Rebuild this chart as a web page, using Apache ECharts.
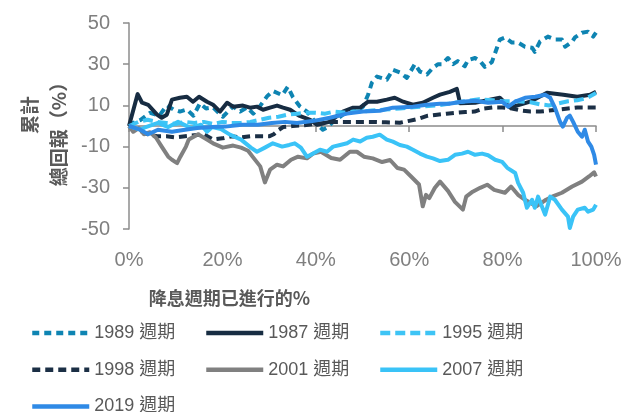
<!DOCTYPE html>
<html>
<head>
<meta charset="utf-8">
<script src="https://cdn.jsdelivr.net/npm/echarts@6/dist/echarts.min.js"></script>
<style>
html,body{margin:0;padding:0;background:#fff;}
#c{width:633px;height:412px;}
</style>
</head>
<body>
<div id="c"></div>
<script>
// ---- data: [x (% of cycle elapsed), cumulative total return %] ----
const xTicks = [0, 20, 40, 60, 80, 100];
const yTicks = [-50, -30, -10, 10, 30, 50];
const seriesNames = ['1989 週期','1987 週期','1995 週期','1998 週期','2001 週期','2007 週期','2019 週期'];

const d1989 = [[0,0],[0.9,1.5],[2.5,3],[4.5,6.4],[6.5,5],[8.1,10],[9.5,8],[10.9,7],[12.4,8],[13.8,5],[15.2,11],[16.5,8.5],[18,9],[20.1,4.5],[22.3,9.5],[23.8,7],[25.3,9],[26.6,6],[28,9.5],[29.6,14.5],[30.8,17],[32.8,15],[34,19],[35.1,14],[36.6,9.5],[38.1,7],[39.2,4],[40.3,0.6],[41.5,-1.8],[42.4,-0.8],[43.7,2],[45.8,5.5],[47.3,8],[48.8,7],[50.1,9.4],[51.2,15.2],[52,21],[53.1,24],[55.2,22.5],[56.5,27.3],[58,26],[59.5,23.4],[61.2,30],[62.3,26.4],[63.8,25],[65.1,28.3],[66.2,30],[67,30],[68.3,33],[69.4,30],[70.4,31.5],[71.9,29],[72.6,32],[74.1,33],[75.2,31.5],[76.2,28.7],[77.7,31],[78.8,38],[79.4,41.9],[80.5,42.9],[82,40.5],[83.3,40.5],[84.8,38.5],[86.3,38],[86.9,36],[88,41],[89.7,43.4],[91.2,42],[92.7,42],[93.4,38.5],[94.9,41],[95.5,43],[97,45.3],[98.3,45.8],[99.4,43.4],[100,45.3]];

const d1987 = [[0,0],[1.85,15.5],[2.8,11.3],[4.1,10.3],[6,5.5],[7,4],[8.1,5.5],[9.2,12.8],[10.9,13.7],[12.4,14.2],[13.7,11.8],[15,14.2],[16.7,11.8],[18,10.3],[19.5,7],[21,11.3],[22.3,9.4],[24.4,9.9],[25.9,8.9],[27.4,9.4],[28.7,7.9],[30.2,8.9],[31.7,9.9],[33,8.9],[34.5,7.9],[36.4,5],[38.8,3],[40.3,0.6],[42.9,2],[45.8,7],[48,8.9],[49.5,8.9],[51.2,11.8],[53.1,11.8],[55.2,12.8],[56.9,13.7],[58.7,11.8],[60.8,10.3],[62.9,11.3],[65.1,13.7],[66.6,15.2],[68.7,16.6],[70.2,18],[70.9,11],[74.1,11.3],[79.4,13.7],[81.6,8.9],[85.9,11.8],[89.5,16.1],[93,15.2],[96,14.2],[98.7,15.2],[100,16.6]];

const d1995 = [[0,0],[2,2],[4,3],[6,2],[8,1.5],[10,1],[12,2],[14,1.5],[16,2],[18,1],[20,2],[22,1.5],[24,1.5],[26,2],[28,3],[30,4],[32,4.5],[34,5.5],[36,6],[38,6.4],[40,6.4],[42,6],[44,7],[46,6.5],[48,7],[50,7],[52,7.5],[55,8],[58,8.5],[60,9],[63,9.5],[66,10],[69,11],[72,12],[75,13],[78,12.5],[80,12],[83,12],[86,11.5],[88,10.5],[90,10],[92,11],[94,12],[96,12.5],[98,13.5],[100,16]];

const d1998 = [[0,0],[2,-2],[4,-4],[6,-5],[8,-5],[10,-5.5],[12,-5],[14,-4.5],[16,-4],[18,-6.5],[20,-6],[22,-5],[24,-5.5],[26,-5],[28,-5],[30,-5],[31,-4],[32,-2],[33,-0.5],[35,0],[38,0.5],[40,1],[42,1.5],[44,2],[48,2],[52,2],[55,1.8],[58,1.6],[60,2.5],[62,3.5],[64,5],[66,5.5],[68,6],[70,6.4],[72,6.8],[74,7],[76,8.5],[78,9],[80,9],[82,8.5],[84,7.5],[86,7],[88,7],[90,7.5],[92,8],[94,8.5],[96,9],[98,9],[100,9]];

const d2001 = [[0,0],[0.9,-2.8],[2.1,-1],[3.2,-4],[4.5,-3],[5.8,-5.7],[7,-10],[8.4,-14.9],[9.2,-16.4],[10.3,-18],[11,-14.9],[12.2,-10],[12.8,-6.6],[14.8,-4],[16.7,-6.6],[18,-8.4],[20.1,-10.5],[22.3,-9.5],[24,-10.5],[25.5,-12],[26.5,-15],[28.1,-19.6],[29.1,-27.4],[30.2,-21.2],[31.7,-18.8],[33,-19.6],[34.7,-16.4],[36.2,-14.9],[38.1,-15.7],[39.4,-13.4],[41.1,-12.5],[43.3,-15.5],[45.2,-16.4],[47.3,-12.5],[48.8,-12.5],[50.3,-14.9],[52.2,-15.7],[54.2,-17.5],[55.9,-16.5],[57.5,-20.4],[58.9,-21.2],[60.4,-24.5],[62.1,-28.4],[62.9,-39],[63.6,-33.4],[64.3,-35],[65.5,-30],[66.6,-27],[68.3,-31.5],[69.8,-36.8],[71.5,-40.6],[72.2,-34.3],[73.6,-31.9],[75.2,-30],[76.7,-28.5],[78.2,-31],[80.5,-32.4],[81.8,-29.4],[83.3,-33.4],[84.8,-35.8],[87.2,-39],[89.3,-35.8],[90.6,-34.3],[92.7,-32.4],[94.9,-29.4],[97,-27],[98.5,-24.5],[99.6,-22.5],[100,-24.5]];

const d2007 = [[0,0],[2.4,-1.8],[3.6,-0.5],[6.2,1.5],[8.4,-0.5],[10.5,2],[13.3,-1],[15.4,0.6],[16.7,-2.8],[17.8,-0.5],[19.7,-1.5],[21.6,-4.2],[24,-6.6],[26.1,-10.5],[27.4,-12.5],[29.1,-10.5],[30.8,-8.4],[32.8,-10],[34.3,-9.2],[35.5,-8.4],[36.8,-10.5],[38.1,-14.9],[39.4,-13.4],[40.9,-11.5],[42.4,-12.5],[43.7,-10],[45.2,-9.2],[46.7,-8.4],[48,-6.6],[49.5,-7.5],[50.9,-5.7],[52.2,-5.2],[53.7,-4.2],[55.2,-6.6],[56.5,-7.6],[58,-9.2],[59.5,-10],[60.8,-11.5],[62.3,-13.4],[63.8,-14.9],[65.1,-15.7],[66.6,-17],[68.3,-16.4],[69.8,-14],[71.3,-13.4],[72.6,-12.5],[74.1,-14],[75.6,-13.4],[76.9,-14.2],[78.4,-16.4],[79.9,-17.4],[81,-20.3],[82.7,-22.8],[83.3,-27.5],[84.4,-32.4],[85.2,-39.7],[86.3,-35.8],[86.9,-39.7],[87.6,-34.3],[88.4,-39],[89.1,-43],[90.2,-34.3],[91.2,-35.8],[92.7,-40.6],[94,-44],[94.4,-49.5],[95.1,-44],[96.1,-40.6],[97.6,-39.7],[98.3,-41.6],[99.4,-40.6],[100,-38.2]];

const d2019 = [[0,0],[2.4,-1.8],[4.1,-4],[6.2,-1.8],[9.2,-2.8],[12,-1.8],[14.6,-1],[17.8,-0.5],[20.6,-0.3],[24.2,0.6],[27.6,0.6],[30.6,1.5],[33.4,2],[36,1.5],[39.6,2.5],[43,4],[46.7,6],[50.1,7],[53.7,7.4],[56.5,8.9],[60.8,9.4],[63.8,10.3],[66.6,10.8],[68.5,10.8],[71.3,11.8],[74.1,12.3],[76.9,11.3],[79.9,11.8],[81.2,9.4],[82.7,11.8],[84.8,13.7],[87,14.2],[89.1,15.2],[90.2,13.7],[91.2,8.9],[92.3,2],[92.9,-0.3],[93.8,4],[94.4,5],[95.1,2],[96.1,-2.8],[97,-5.2],[97.6,-1.8],[98.3,-7.6],[99,-10],[99.6,-14],[100,-18.8]];

const seriesData = [d1989, d1987, d1995, d1998, d2001, d2007, d2019];
const colors = ['#0E84B2', '#172C42', '#3EC4F5', '#1B2F45', '#808080', '#3AC3F7', '#2F8AE6'];
const dashes = [[7,5], 'solid', [10,5], [8,5], 'solid', 'solid', 'solid'];

const FONT = "'Liberation Sans', Arial, 'Noto Sans CJK TC', sans-serif";
const CJK = "'Noto Sans CJK TC', 'Liberation Sans', sans-serif";

const chart = echarts.init(document.getElementById('c'), null, {renderer: 'canvas'});

const series = seriesNames.map((n, i) => ({
  name: n,
  type: 'line',
  data: seriesData[i],
  xAxisIndex: 0,
  yAxisIndex: 0,
  symbol: 'none',
  smooth: false,
  animation: false,
  lineStyle: {color: colors[i], width: 4, type: dashes[i], join: 'round'},
  itemStyle: {color: colors[i]}
}));

function legendCol(left, names) {
  return {
    left: left, top: 323, orient: 'vertical', padding: 0,
    height: 120, itemWidth: 57, itemHeight: 14, itemGap: 16.7,
    data: names, selectedMode: false,
    itemStyle: {color: 'rgba(0,0,0,0)', borderColor: 'rgba(0,0,0,0)', borderWidth: 0, opacity: 0},
    lineStyle: {width: 4.5},
    textStyle: {fontSize: 18, lineHeight: 20, color: '#595959', fontFamily: FONT}
  };
}

chart.setOption({
  backgroundColor: '#ffffff',
  animation: false,
  grid: {left: 129, right: 37, top: 23, bottom: 183, containLabel: false},
  xAxis: [
    {
      type: 'value', min: xTicks[0], max: xTicks[xTicks.length - 1], interval: 20,
      position: 'bottom',
      axisLine: {show: false, onZero: false},
      axisTick: {show: false},
      splitLine: {show: false},
      axisLabel: {formatter: '{value}%', fontSize: 20, color: '#7f7f7f', margin: 21, fontFamily: FONT}
    },
    {
      type: 'value', min: xTicks[0], max: xTicks[xTicks.length - 1], interval: 20,
      position: 'bottom',
      axisLine: {show: true, onZero: true, lineStyle: {color: '#8c8c8c', width: 1.5}},
      axisTick: {show: true, length: 6, inside: false, lineStyle: {color: '#8c8c8c', width: 1.5}},
      splitLine: {show: false},
      axisLabel: {show: false}
    }
  ],
  yAxis: {
    type: 'value', min: yTicks[0], max: yTicks[yTicks.length - 1], interval: 20,
    axisLine: {show: true, onZero: false, lineStyle: {color: '#8c8c8c', width: 1.5}},
    axisTick: {show: true, length: 6, lineStyle: {color: '#8c8c8c', width: 1.5}},
    splitLine: {show: false},
    axisLabel: {fontSize: 20, color: '#7f7f7f', margin: 19, fontFamily: FONT}
  },
  legend: [
    legendCol(30, [seriesNames[0], seriesNames[3], seriesNames[6]]),
    legendCol(204, [seriesNames[1], seriesNames[4]]),
    legendCol(378, [seriesNames[2], seriesNames[5]])
  ],
  graphic: [
    {type: 'text', x: 229.5, y: 298, silent: true,
     style: {text: '降息週期已進行的%', fontSize: 18, fontWeight: 'bold', fontFamily: CJK, fill: '#595959', align: 'center', verticalAlign: 'middle'}},
    {type: 'text', x: 30, y: 115, rotation: Math.PI / 2, silent: true,
     style: {text: '累計', fontSize: 19, fontWeight: 'bold', fontFamily: CJK, fill: '#595959', align: 'center', verticalAlign: 'middle'}},
    {type: 'text', x: 59, y: 129.5, rotation: Math.PI / 2, silent: true,
     style: {text: '總回報（%）', fontSize: 19, fontWeight: 'bold', fontFamily: CJK, fill: '#595959', align: 'center', verticalAlign: 'middle'}}
  ],
  series: series
});
</script>
</body>
</html>
